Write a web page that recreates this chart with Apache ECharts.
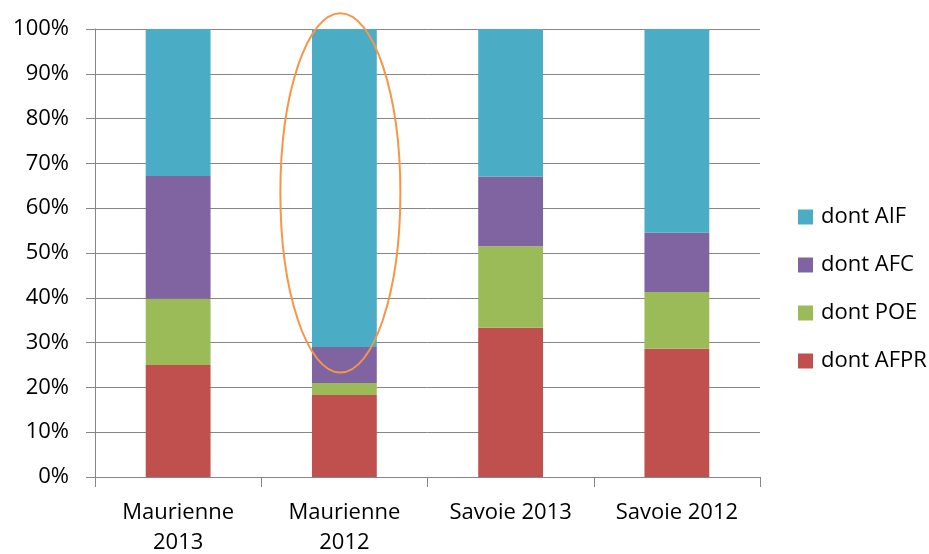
<!DOCTYPE html>
<html><head><meta charset="utf-8">
<script src="https://cdn.jsdelivr.net/npm/echarts@6/dist/echarts.min.js"></script>
<style>html,body{margin:0;padding:0;background:#fff}#c{width:929px;height:554px}</style>
</head><body><div id="c"></div>
<script>
const categories = ['Maurienne\n2013', 'Maurienne\n2012', 'Savoie 2013', 'Savoie 2012'];
const afpr = [25.0, 18.3, 33.3, 28.6];
const poe = [14.8, 2.7, 18.2, 12.7];
const afc = [27.4, 8.0, 15.6, 13.2];
const aif = [32.8, 71.0, 32.9, 45.5];
const yTicks = [0, 10, 20, 30, 40, 50, 60, 70, 80, 90, 100];

const font = 'Open Sans, Liberation Sans, sans-serif';
const chart = echarts.init(document.getElementById('c'));
function s(name, data, color) {
  return { name, type: 'bar', stack: 'total', data, barWidth: '39%', z: 2,
    itemStyle: { color }, emphasis: { disabled: true } };
}
chart.setOption({
  animation: false,
  grid: { left: 95, right: 169, top: 29, bottom: 77, containLabel: false, outerBoundsMode: 'none' },
  legend: {
    orient: 'vertical', left: 793, top: 201,
    data: ['dont AIF', 'dont AFC', 'dont POE', 'dont AFPR'],
    icon: 'rect', itemWidth: 15, itemHeight: 15, itemGap: 26,
    textStyle: { fontSize: 22, color: '#000', fontFamily: font, padding: [0, 0, 0, 3] }
  },
  xAxis: {
    type: 'category', data: categories,
    axisLine: { lineStyle: { color: '#868686' } },
    axisTick: { show: true, length: 10, lineStyle: { color: '#868686' } },
    axisLabel: { fontSize: 22, color: '#000', fontFamily: font, margin: 21, lineHeight: 30, interval: 0 }
  },
  yAxis: {
    type: 'value', min: 0, max: 100, interval: 10,
    axisLine: { show: true, lineStyle: { color: '#868686' } },
    axisTick: { show: true, length: 9, lineStyle: { color: '#868686' } },
    splitLine: { lineStyle: { color: '#868686', width: 1 } },
    axisLabel: { fontSize: 22, color: '#000', fontFamily: font, margin: 26,
      formatter: v => yTicks.includes(v) ? v + '%' : '' }
  },
  series: [
    s('dont AFPR', afpr, '#C0504D'),
    s('dont POE', poe, '#9BBB59'),
    s('dont AFC', afc, '#8064A2'),
    s('dont AIF', aif, '#4BACC6')
  ]
});
// highlight ellipse around Maurienne 2012
const p0 = chart.convertToPixel({ gridIndex: 0 }, [1, 0]);
const p100 = chart.convertToPixel({ gridIndex: 0 }, [1, 100]);
const perPct = (p0[1] - p100[1]) / 100;
const topY = p0[1] - 103.5 * perPct, botY = p0[1] - 23.3 * perPct;
chart.setOption({
  graphic: {
    elements: [{
      type: 'ellipse', silent: true, z: 1000, zlevel: 0,
      shape: { cx: p0[0] - 4, cy: (topY + botY) / 2, rx: 60, ry: (botY - topY) / 2 },
      style: { fill: null, stroke: '#F79646', lineWidth: 2 }
    }]
  }
});
</script></body></html>
